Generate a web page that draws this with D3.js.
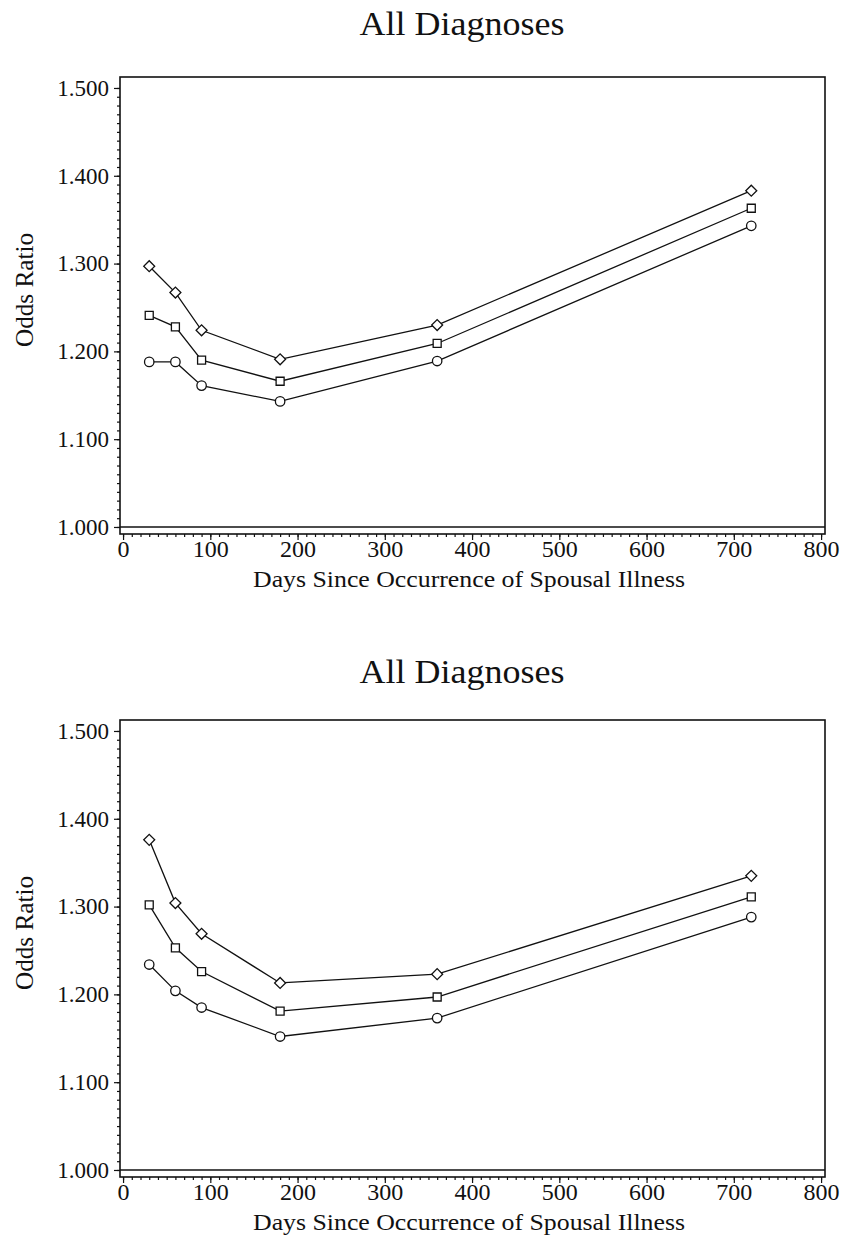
<!DOCTYPE html>
<html>
<head>
<meta charset="utf-8">
<script src="https://cdn.jsdelivr.net/npm/d3@7"></script>
<style>
  body { margin: 0; background: #fff; }
  text { font-family: "Liberation Serif", "DejaVu Serif", serif; fill: #111; }
</style>
</head>
<body>
<script>
// days since spousal illness (x values of every series)
var days = [30, 60, 90, 180, 360, 720];

// upper chart
var topUpper    = [1.297, 1.267, 1.224, 1.191, 1.230, 1.383];
var topEstimate = [1.241, 1.228, 1.190, 1.166, 1.209, 1.363];
var topLower    = [1.188, 1.188, 1.161, 1.143, 1.189, 1.343];

// lower chart
var botUpper    = [1.376, 1.304, 1.269, 1.213, 1.223, 1.335];
var botEstimate = [1.302, 1.253, 1.226, 1.181, 1.197, 1.311];
var botLower    = [1.234, 1.204, 1.185, 1.152, 1.173, 1.288];

var xTicks = [0, 100, 200, 300, 400, 500, 600, 700, 800];
var yTicks = [1.0, 1.1, 1.2, 1.3, 1.4, 1.5];
var chartTitle = "All Diagnoses";
var xTitle = "Days Since Occurrence of Spousal Illness";
var yTitle = "Odds Ratio";

var svg = d3.select("body").append("svg")
  .attr("width", 843)
  .attr("height", 1255);

// plot box (window.top is taken, so no "top" here)
var plotL = 120, plotR = 825, plotT = 77, plotB = 534;

var x = d3.scaleLinear().domain([-3.5, 804.5]).range([plotL, plotR]);
var y = d3.scaleLinear().domain([0.992, 1.5125]).range([plotB, plotT]);

var line = d3.line()
  .x(function(d, i) { return x(days[i]); })
  .y(function(d) { return y(d); });

drawChart(0, 35, [topUpper, topEstimate, topLower]);
drawChart(643, 40, [botUpper, botEstimate, botLower]);

function drawChart(offset, titleY, series) {
  var g = svg.append("g").attr("transform", "translate(0," + offset + ")");

  g.append("text")
    .attr("x", 462).attr("y", titleY)
    .attr("text-anchor", "middle")
    .attr("font-size", 34)
    .attr("textLength", 205)
    .attr("lengthAdjust", "spacingAndGlyphs")
    .text(chartTitle);

  // minor ticks first, majors on top
  g.append("g")
    .attr("transform", "translate(0," + plotB + ")")
    .call(d3.axisBottom(x).tickValues(d3.range(0, 801, 10)).tickSize(3).tickFormat(""));
  g.append("g")
    .attr("transform", "translate(0," + plotB + ")")
    .call(d3.axisBottom(x).tickValues(xTicks).tickSize(6).tickPadding(17)
      .tickFormat(d3.format("d")))
    .call(function(a) { a.selectAll("text").attr("font-size", 24).attr("dy", 0); });

  g.append("g")
    .attr("transform", "translate(" + plotL + ",0)")
    .call(d3.axisLeft(y).tickValues(d3.range(0, 51).map(function(i) { return 1 + i / 100; }))
      .tickSize(3).tickFormat(""));
  g.append("g")
    .attr("transform", "translate(" + plotL + ",0)")
    .call(d3.axisLeft(y).tickValues(yTicks).tickSize(6).tickPadding(5)
      .tickFormat(d3.format(".3f")))
    .call(function(a) { a.selectAll("text").attr("font-size", 23); });

  g.selectAll(".domain").remove();
  g.selectAll(".tick line").attr("stroke", "#111").attr("stroke-width", 1.2);
  g.selectAll(".tick text").attr("fill", "#111")
    .style("font-family", '"Liberation Serif", serif');

  // frame
  g.append("rect")
    .attr("x", plotL).attr("y", plotT)
    .attr("width", plotR - plotL).attr("height", plotB - plotT)
    .attr("fill", "none").attr("stroke", "#111").attr("stroke-width", 1.6);

  // reference line at 1.000
  g.append("line")
    .attr("x1", plotL).attr("x2", plotR)
    .attr("y1", y(1)).attr("y2", y(1))
    .attr("stroke", "#111").attr("stroke-width", 1.3);

  g.append("text")
    .attr("x", 469).attr("y", 587)
    .attr("text-anchor", "middle")
    .attr("font-size", 24)
    .attr("textLength", 432)
    .attr("lengthAdjust", "spacingAndGlyphs")
    .text(xTitle);

  g.append("text")
    .attr("transform", "translate(33,290) rotate(-90)")
    .attr("text-anchor", "middle")
    .attr("font-size", 25)
    .attr("textLength", 114)
    .attr("lengthAdjust", "spacingAndGlyphs")
    .text(yTitle);

  var shapes = [
    { type: d3.symbolSquare, size: 60, rotate: 45 },
    { type: d3.symbolSquare, size: 64, rotate: 0 },
    { type: d3.symbolCircle, size: 70, rotate: 0 }
  ];

  series.forEach(function(vals, s) {
    g.append("path")
      .datum(vals)
      .attr("d", line)
      .attr("fill", "none")
      .attr("stroke", "#111")
      .attr("stroke-width", 1.3);

    g.selectAll(".m" + s)
      .data(vals)
      .enter()
      .append("path")
      .attr("class", "m" + s)
      .attr("d", d3.symbol().type(shapes[s].type).size(shapes[s].size))
      .attr("transform", function(d, i) {
        return "translate(" + x(days[i]) + "," + y(d) + ") rotate(" + shapes[s].rotate + ")";
      })
      .attr("fill", "#fff")
      .attr("stroke", "#111")
      .attr("stroke-width", 1.3);
  });
}
</script>
</body>
</html>
